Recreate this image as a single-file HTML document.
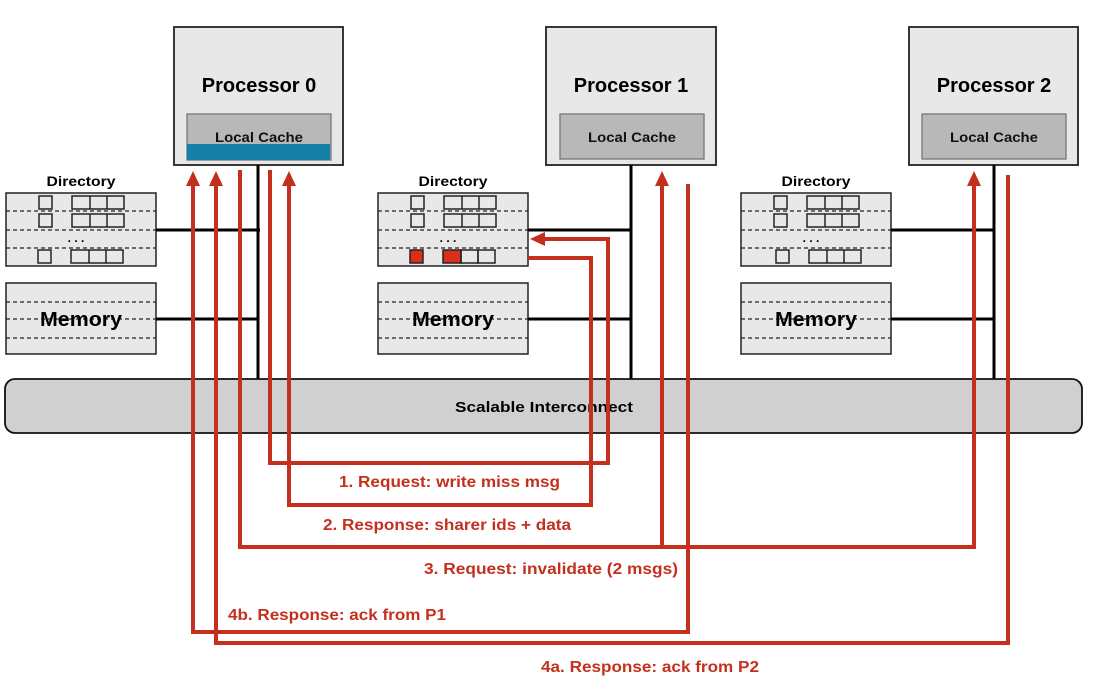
<!DOCTYPE html>
<html><head><meta charset="utf-8"><style>
html,body{margin:0;padding:0;background:#fff;}
svg{display:block;}
text{font-family:"Liberation Sans",sans-serif;font-weight:bold;}
</style></head><body>
<svg width="1098" height="685" viewBox="0 0 1098 685" xmlns="http://www.w3.org/2000/svg">
<defs>
<g id="node">
  <text x="81" y="186" font-size="14" text-anchor="middle" fill="#000" textLength="69" lengthAdjust="spacingAndGlyphs">Directory</text>
  <rect x="6" y="193" width="150" height="73" fill="#e8e8e8" stroke="#222" stroke-width="1.5"/>
  <g stroke="#222" stroke-width="1.3" stroke-dasharray="4,3"><line x1="6" y1="211" x2="156" y2="211"/><line x1="6" y1="230" x2="156" y2="230"/><line x1="6" y1="248" x2="156" y2="248"/></g>
  <g fill="none" stroke="#222" stroke-width="1.5">
    <rect x="39" y="196" width="13" height="13"/><rect x="72" y="196" width="52" height="13"/><line x1="90" y1="196" x2="90" y2="209"/><line x1="107" y1="196" x2="107" y2="209"/>
    <rect x="39" y="214" width="13" height="13"/><rect x="72" y="214" width="52" height="13"/><line x1="90" y1="214" x2="90" y2="227"/><line x1="107" y1="214" x2="107" y2="227"/>
  </g>
  <text x="76" y="242" font-size="12" text-anchor="middle" fill="#000">. . .</text>
  <rect x="6" y="283" width="150" height="71" fill="#e8e8e8" stroke="#222" stroke-width="1.5"/>
  <g stroke="#222" stroke-width="1.3" stroke-dasharray="4,3"><line x1="6" y1="302" x2="156" y2="302"/><line x1="6" y1="319" x2="156" y2="319"/><line x1="6" y1="338" x2="156" y2="338"/></g>
  <text x="81" y="326" font-size="20" text-anchor="middle" fill="#000" textLength="82" lengthAdjust="spacingAndGlyphs">Memory</text>
  <line x1="156" y1="230" x2="260" y2="230" stroke="#000" stroke-width="3"/>
  <line x1="156" y1="319" x2="258" y2="319" stroke="#000" stroke-width="3"/>
</g>
</defs>

<use href="#node"/>
<use href="#node" transform="translate(372,0)"/>
<use href="#node" transform="translate(735,0)"/>

<g fill="none" stroke="#222" stroke-width="1.5">
  <rect x="38" y="250" width="13" height="13"/><rect x="71" y="250" width="52" height="13"/><line x1="89" y1="250" x2="89" y2="263"/><line x1="106" y1="250" x2="106" y2="263"/>
  <rect x="776" y="250" width="13" height="13"/><rect x="809" y="250" width="52" height="13"/><line x1="827" y1="250" x2="827" y2="263"/><line x1="844" y1="250" x2="844" y2="263"/>
</g>
<rect x="410" y="250" width="13" height="13" fill="#d9301c" stroke="#222" stroke-width="1.5"/>
<rect x="443" y="250" width="18" height="13" fill="#d9301c" stroke="#222" stroke-width="1.5"/>
<rect x="461" y="250" width="17" height="13" fill="none" stroke="#222" stroke-width="1.5"/>
<rect x="478" y="250" width="17" height="13" fill="none" stroke="#222" stroke-width="1.5"/>

<g stroke="#222" stroke-width="1.8" fill="#e8e8e8">
  <rect x="174" y="27" width="169" height="138"/>
  <rect x="546" y="27" width="170" height="138"/>
  <rect x="909" y="27" width="169" height="138"/>
</g>
<g stroke="#777" stroke-width="1.3" fill="#b8b8b8">
  <rect x="187" y="114" width="144" height="46"/>
  <rect x="560" y="114" width="144" height="45"/>
  <rect x="922" y="114" width="144" height="45"/>
</g>
<rect x="187" y="144" width="143" height="16" fill="#157fa8"/>
<g font-size="20" text-anchor="middle" fill="#000">
  <text x="259" y="92">Processor 0</text>
  <text x="631" y="92">Processor 1</text>
  <text x="994" y="92">Processor 2</text>
</g>
<g font-size="14" text-anchor="middle" fill="#111">
  <text x="259" y="142" textLength="88" lengthAdjust="spacingAndGlyphs">Local Cache</text>
  <text x="632" y="142" textLength="88" lengthAdjust="spacingAndGlyphs">Local Cache</text>
  <text x="994" y="142" textLength="88" lengthAdjust="spacingAndGlyphs">Local Cache</text>
</g>

<g stroke="#000" stroke-width="3">
  <line x1="258" y1="165" x2="258" y2="381"/>
  <line x1="631" y1="165" x2="631" y2="381"/>
  <line x1="994" y1="165" x2="994" y2="381"/>
</g>

<rect x="5" y="379" width="1077" height="54" rx="10" ry="10" fill="#d0d0d0" stroke="#111" stroke-width="1.8"/>
<text x="455" y="412" font-size="15" fill="#000" textLength="178" lengthAdjust="spacingAndGlyphs">Scalable Interconnect</text>

<g fill="none" stroke="#c4301d" stroke-width="4">
  <polyline points="688,184 688,632 193,632 193,184"/>
  <polyline points="1008,175 1008,643 216,643 216,184"/>
  <polyline points="240,170 240,547 974,547 974,184"/>
  <line x1="662" y1="547" x2="662" y2="184"/>
  <polyline points="270,170 270,463 608,463 608,239 542,239"/>
  <polyline points="528,258 591,258 591,505 289,505 289,184"/>
</g>
<g fill="#c4301d">
  <polygon points="193,171 186,186 200,186"/>
  <polygon points="216,171 209,186 223,186"/>
  <polygon points="289,171 282,186 296,186"/>
  <polygon points="662,171 655,186 669,186"/>
  <polygon points="974,171 967,186 981,186"/>
  <polygon points="530,239 545,232 545,246"/>
</g>
<g font-size="16" fill="#c4301d" lengthAdjust="spacingAndGlyphs">
  <text x="339" y="487" textLength="221" lengthAdjust="spacingAndGlyphs">1. Request: write miss msg</text>
  <text x="323" y="530" textLength="248" lengthAdjust="spacingAndGlyphs">2. Response: sharer ids + data</text>
  <text x="424" y="574" textLength="254" lengthAdjust="spacingAndGlyphs">3. Request: invalidate (2 msgs)</text>
  <text x="228" y="620" textLength="218" lengthAdjust="spacingAndGlyphs">4b. Response: ack from P1</text>
  <text x="541" y="672" textLength="218" lengthAdjust="spacingAndGlyphs">4a. Response: ack from P2</text>
</g>
</svg>
</body></html>
